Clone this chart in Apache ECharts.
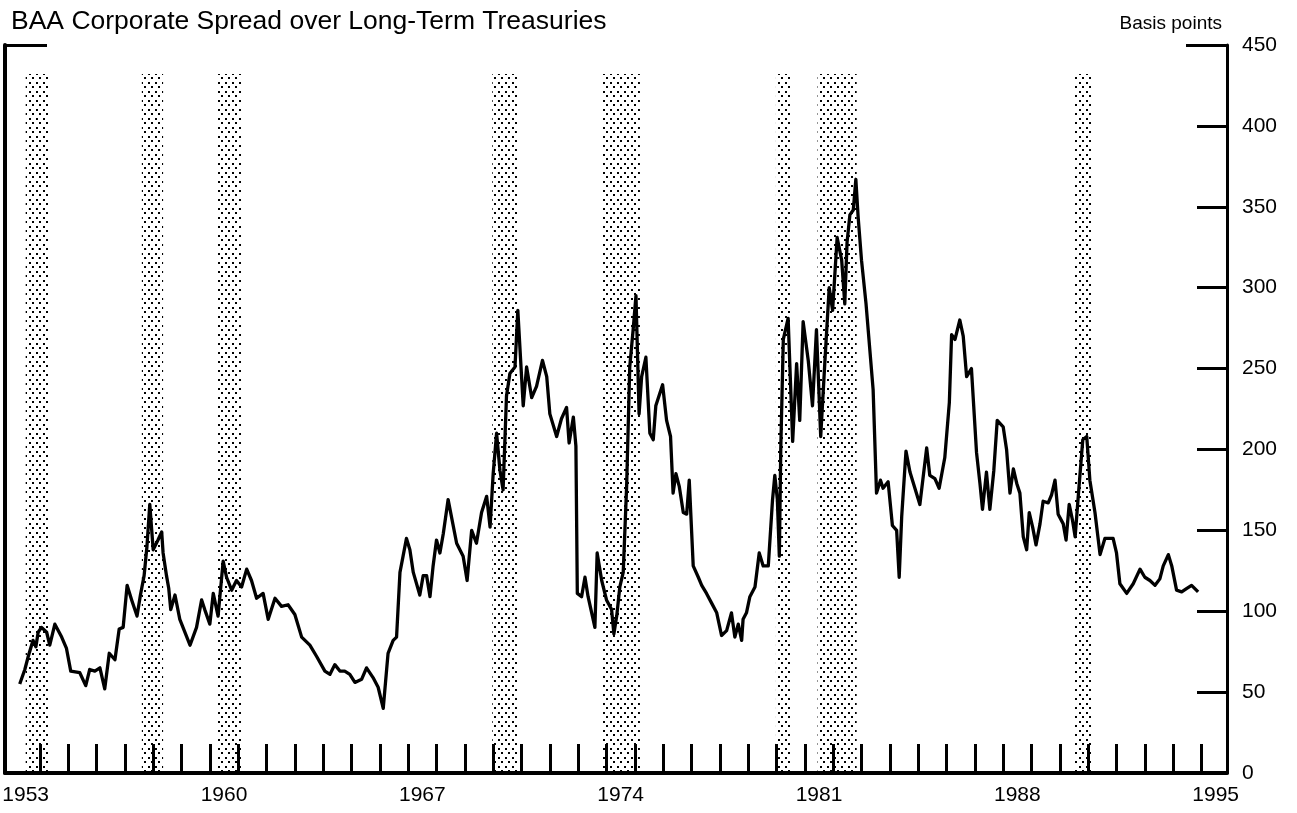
<!DOCTYPE html>
<html>
<head>
<meta charset="utf-8">
<script src="https://cdn.jsdelivr.net/npm/echarts@6/dist/echarts.min.js"></script>
<style>
  html, body { margin: 0; padding: 0; background: #fff; }
  #chart { width: 1297px; height: 813px; }
</style>
</head>
<body>
<div id="chart"></div>
<script>
// ---- data ----
const dates = [
  1953.29,1953.47,1953.59,1953.76,1953.86,1953.94,1954.06,1954.24,1954.35,1954.53,1954.77,1954.94,
  1955.09,1955.41,1955.62,1955.76,1955.94,1956.12,1956.29,1956.45,1956.65,1956.80,1956.94,
  1957.08,1957.24,1957.43,1957.55,1957.68,1957.78,1957.88,1958.00,1958.17,1958.30,1958.35,1958.47,
  1958.55,1958.62,1958.77,1958.94,1959.30,1959.53,1959.71,1959.82,1960.00,1960.12,1960.29,1960.47,
  1960.59,1960.77,1960.94,1961.12,1961.30,1961.47,1961.65,1961.88,1962.06,1962.30,1962.53,1962.76,
  1963.00,1963.24,1963.53,1963.77,1964.06,1964.24,1964.41,1964.59,1964.76,1964.94,1965.12,1965.36,
  1965.53,1965.76,1965.94,1966.12,1966.24,1966.29,1966.47,1966.59,1966.71,1966.94,1967.06,1967.18,
  1967.41,1967.53,1967.65,1967.77,1967.88,1968.00,1968.12,1968.24,1968.41,1968.47,1968.71,1968.94,
  1969.08,1969.24,1969.41,1969.59,1969.77,1969.89,1970.00,1970.12,1970.24,1970.35,1970.47,1970.59,
  1970.77,1970.87,1971.06,1971.18,1971.36,1971.53,1971.74,1971.89,1972.00,1972.24,1972.41,1972.59,
  1972.68,1972.83,1972.92,1972.97,1973.12,1973.24,1973.35,1973.59,1973.67,1973.83,1974.00,1974.18,
  1974.26,1974.36,1974.47,1974.59,1974.71,1974.82,1974.94,1975.04,1975.15,1975.24,1975.39,1975.53,
  1975.65,1975.74,1975.98,1976.12,1976.26,1976.35,1976.45,1976.57,1976.71,1976.83,1976.92,1977.06,
  1977.24,1977.36,1977.53,1977.71,1977.89,1978.06,1978.24,1978.41,1978.53,1978.65,1978.77,1978.82,
  1978.94,1979.06,1979.24,1979.39,1979.53,1979.71,1979.86,1979.94,1980.03,1980.10,1980.15,1980.24,
  1980.41,1980.57,1980.71,1980.82,1980.94,1981.12,1981.27,1981.41,1981.56,1981.71,1981.86,1981.98,
  1982.14,1982.30,1982.41,1982.49,1982.59,1982.71,1982.80,1982.88,1983.00,1983.16,1983.41,1983.53,
  1983.67,1983.76,1983.94,1984.09,1984.24,1984.33,1984.42,1984.57,1984.71,1985.06,1985.30,1985.41,
  1985.59,1985.74,1985.94,1986.10,1986.18,1986.30,1986.47,1986.59,1986.71,1986.88,1987.06,1987.18,
  1987.27,1987.41,1987.53,1987.67,1987.79,1988.00,1988.12,1988.24,1988.36,1988.48,1988.59,1988.71,
  1988.83,1988.92,1989.04,1989.16,1989.30,1989.41,1989.59,1989.71,1989.83,1989.94,1990.12,1990.22,
  1990.33,1990.45,1990.54,1990.65,1990.81,1990.95,1991.06,1991.24,1991.42,1991.59,1991.88,1992.00,
  1992.12,1992.36,1992.59,1992.83,1993.00,1993.18,1993.36,1993.53,1993.65,1993.83,1993.95,1994.12,
  1994.30,1994.47,1994.65,1994.88
];
const spread = [
  55,64,72,82,78,87,90,87,79,92,84,77,
  63,62,54,64,63,65,52,74,70,89,90,
  116,107,97,110,122,140,166,138,144,149,136,122,
  114,101,110,95,79,90,107,101,92,111,97,131,
  121,113,119,115,126,119,108,111,95,108,103,104,
  98,84,79,72,63,61,67,63,63,61,56,58,
  65,59,53,40,64,74,82,84,124,145,138,124,
  110,122,122,109,128,144,136,148,169,168,142,134,
  119,150,142,161,171,152,185,210,187,175,233,247,
  251,286,227,251,232,239,255,245,222,208,219,226,
  204,220,202,111,109,121,109,90,136,119,107,101,
  86,97,115,124,177,251,274,295,222,245,257,210,
  206,227,240,218,208,173,185,177,161,160,181,128,
  121,116,111,105,99,85,88,99,84,92,82,95,
  99,109,115,136,128,128,169,184,169,134,200,268,
  281,205,253,218,279,255,227,274,208,255,300,286,
  331,317,290,328,345,348,367,344,317,290,237,173,
  181,176,180,153,150,121,159,199,186,166,201,184,
  182,176,195,229,271,268,280,270,245,250,198,179,
  163,186,163,187,218,214,200,173,188,179,173,146,
  138,161,152,141,154,168,167,172,181,160,154,144,
  166,156,146,171,206,208,181,161,135,145,145,136,
  117,111,117,126,121,119,116,120,128,135,128,113,
  112,114,116,112
];
// recession periods (decimal years)
const recessionStart = [1953.5, 1957.6, 1960.25, 1969.97, 1973.83, 1979.98, 1981.45, 1990.52];
const recessionEnd   = [1954.3, 1958.35, 1961.12, 1970.85, 1975.18, 1980.5, 1982.83, 1991.12];
const recessionTop = 432;
// axis ticks / labels
const labelYears = [1953, 1960, 1967, 1974, 1981, 1988, 1995];
const tickYears = [];
for (let y = 1954; y <= 1995; y++) tickYears.push(y);
const yMin = 0, yMax = 450, yStep = 50;
const xMin = 1952.77, xMax = 1995.9;

// ---- dotted pattern for the shaded recessions ----
const pat = document.createElement('canvas');
pat.width = 7; pat.height = 9;
const pctx = pat.getContext('2d');
pctx.fillStyle = '#000';
pctx.fillRect(1, 1, 2, 2);
pctx.fillRect(4, 5, 2, 2);

const FONT = 'Liberation Sans, Arial, Helvetica, sans-serif';
const chart = echarts.init(document.getElementById('chart'), null, { renderer: 'canvas' });

const lineData = dates.map((d, i) => [d, spread[i]]);
const areas = recessionStart.map((s, i) => [
  { xAxis: s, yAxis: yMin },
  { xAxis: recessionEnd[i], yAxis: recessionTop }
]);

chart.setOption({
  animation: false,
  backgroundColor: '#fff',
  title: [
    { text: 'BAA Corporate Spread over Long-Term Treasuries', left: 6, top: 3,
      textStyle: { fontFamily: FONT, fontSize: 26.5, fontWeight: 'normal', color: '#000' } },
    { text: 'Basis points', right: 70, top: 9,
      textStyle: { fontFamily: FONT, fontSize: 19, fontWeight: 'normal', color: '#000' } }
  ],
  grid: { left: 5, right: 70, top: 45, bottom: 40, containLabel: false, outerBoundsMode: 'none' },
  xAxis: {
    type: 'value', min: xMin, max: xMax,
    splitLine: { show: false },
    axisLine: { show: true, onZero: false, lineStyle: { color: '#000', width: 4 } },
    axisTick: { show: true, inside: true, length: 29, customValues: tickYears,
      lineStyle: { color: '#000', width: 3 } },
    axisLabel: { show: true, customValues: labelYears.map(y => y + 0.5),
      formatter: v => String(Math.floor(v)),
      fontFamily: FONT, fontSize: 21, color: '#000', margin: 12 }
  },
  yAxis: [
    {
      type: 'value', position: 'right', min: yMin, max: yMax, interval: yStep,
      splitLine: { show: false },
      axisLine: { show: true, lineStyle: { color: '#000', width: 3 } },
      axisTick: { show: true, inside: true, length: 30, lineStyle: { color: '#000', width: 3 } },
      axisLabel: { fontFamily: FONT, fontSize: 21, color: '#000', margin: 15 }
    },
    {
      type: 'value', position: 'left', min: yMin, max: yMax,
      splitLine: { show: false },
      axisLine: { show: true, lineStyle: { color: '#000', width: 4 } },
      axisTick: { show: true, inside: true, length: 42, customValues: [yMax],
        lineStyle: { color: '#000', width: 3 } },
      axisLabel: { show: false }
    },
    {
      type: 'value', position: 'right', min: yMin, max: yMax,
      splitLine: { show: false },
      axisLine: { show: false },
      axisTick: { show: true, inside: true, length: 41, customValues: [yMax],
        lineStyle: { color: '#000', width: 3 } },
      axisLabel: { show: false }
    }
  ],
  series: [{
    type: 'line',
    data: lineData,
    showSymbol: false,
    symbol: 'none',
    lineStyle: { color: '#000', width: 3.3, join: 'round' },
    z: 3,
    markArea: {
      silent: true,
      itemStyle: { color: { image: pat, repeat: 'repeat' } },
      data: areas
    }
  }]
});
</script>
</body>
</html>
